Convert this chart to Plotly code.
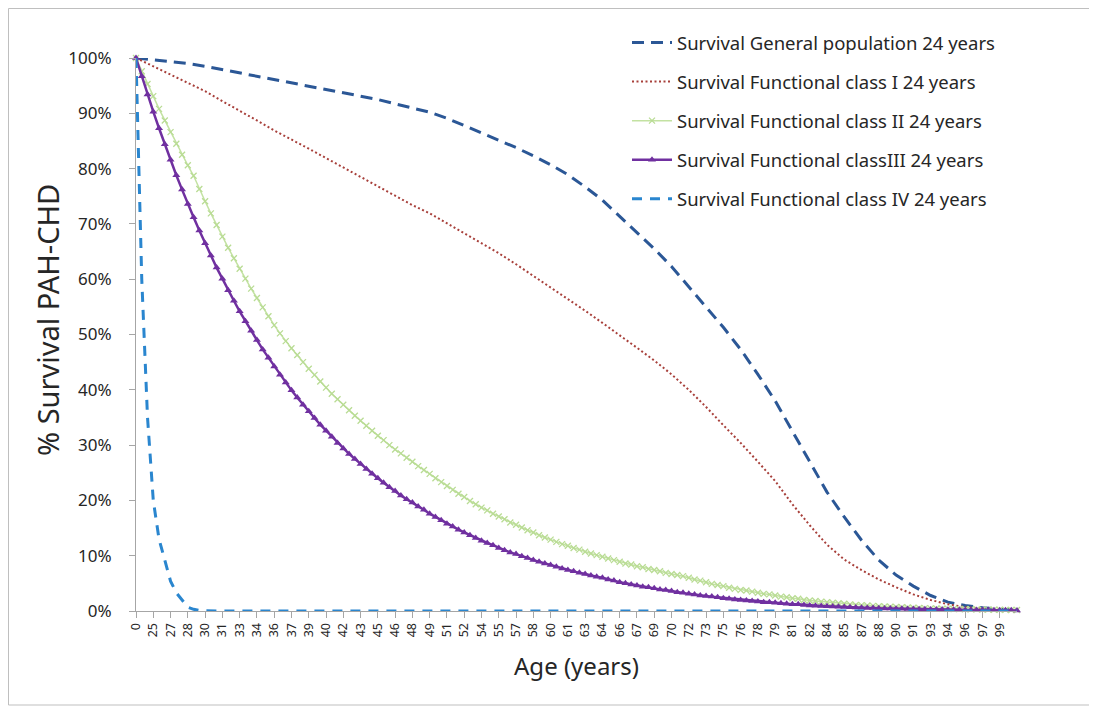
import plotly.graph_objects as go

# ---------------- data ----------------
# category axis: "0" then ages 24 .. 100 in half-year steps
ages = [0,
        24, 24.5, 25, 25.5, 26, 26.5, 27, 27.5, 28, 28.5, 29, 29.5, 30, 30.5, 31, 31.5, 32, 32.5, 33, 33.5,
        34, 34.5, 35, 35.5, 36, 36.5, 37, 37.5, 38, 38.5, 39, 39.5, 40, 40.5, 41, 41.5, 42, 42.5, 43, 43.5,
        44, 44.5, 45, 45.5, 46, 46.5, 47, 47.5, 48, 48.5, 49, 49.5, 50, 50.5, 51, 51.5, 52, 52.5, 53, 53.5,
        54, 54.5, 55, 55.5, 56, 56.5, 57, 57.5, 58, 58.5, 59, 59.5, 60, 60.5, 61, 61.5, 62, 62.5, 63, 63.5,
        64, 64.5, 65, 65.5, 66, 66.5, 67, 67.5, 68, 68.5, 69, 69.5, 70, 70.5, 71, 71.5, 72, 72.5, 73, 73.5,
        74, 74.5, 75, 75.5, 76, 76.5, 77, 77.5, 78, 78.5, 79, 79.5, 80, 80.5, 81, 81.5, 82, 82.5, 83, 83.5,
        84, 84.5, 85, 85.5, 86, 86.5, 87, 87.5, 88, 88.5, 89, 89.5, 90, 90.5, 91, 91.5, 92, 92.5, 93, 93.5,
        94, 94.5, 95, 95.5, 96, 96.5, 97, 97.5, 98, 98.5, 99, 99.5, 100]

tick_labels = ["0", "25", "27", "28", "30", "31", "33", "34", "36", "37", "39", "40", "42", "43", "45",
               "46", "48", "49", "51", "52", "54", "55", "57", "58", "60", "61", "63", "64", "66", "67",
               "69", "70", "72", "73", "75", "76", "78", "79", "81", "82", "84", "85", "87", "88", "90",
               "91", "93", "94", "96", "97", "99"]

# series sampled every third category (0, 25, 26.5, ... 100)
general_population = [100, 99.7, 99.4, 99.0, 98.5, 97.9, 97.3, 96.7, 96.1, 95.6, 95.0, 94.4, 93.8,
                      93.2, 92.5, 91.7, 91.0, 90.2, 89.1, 87.8, 86.5, 85.1, 83.8, 82.3, 80.7, 78.9,
                      76.7, 74.3, 71.4, 68.5, 65.5, 62.3, 58.7, 55.1, 51.3, 47.3, 42.8, 38.0, 32.5,
                      26.8, 21.5, 17.0, 12.8, 9.2, 6.5, 4.5, 2.8, 1.6, 1.0, 0.6, 0.3, 0.2]

class_I = [100, 98.5, 97.0, 95.5, 94.0, 92.2, 90.5, 88.7, 86.9, 85.3, 83.6, 81.9, 80.2,
           78.5, 76.8, 75.1, 73.4, 71.9, 70.1, 68.3, 66.5, 64.7, 62.7, 60.6, 58.6, 56.5,
           54.3, 52.1, 49.9, 47.6, 45.3, 42.8, 40.0, 36.9, 33.6, 30.4, 27.0, 23.5, 19.3,
           15.5, 12.0, 9.3, 7.4, 5.7, 4.3, 3.0, 2.0, 1.2, 0.7, 0.4, 0.2, 0.1]

# series at every category
class_II = [100, 97.6, 95.3, 93.1, 90.8, 88.7, 86.6, 84.5, 82.5, 80.6,
            78.7, 76.3, 74.1, 71.9, 69.8, 67.7, 65.7, 63.8, 61.9, 60.1,
            58.3, 56.6, 54.9, 53.3, 51.7, 50.2, 48.8, 47.5, 46.3, 45.0,
            43.8, 42.7, 41.5, 40.4, 39.3, 38.3, 37.3, 36.3, 35.3, 34.4,
            33.5, 32.6, 31.7, 30.9, 30.0, 29.2, 28.5, 27.7, 27.0, 26.2,
            25.5, 24.8, 24.0, 23.3, 22.6, 21.9, 21.2, 20.6, 19.9, 19.3,
            18.7, 18.2, 17.6, 17.1, 16.6, 16.0, 15.6, 15.1, 14.6, 14.2,
            13.7, 13.3, 12.9, 12.5, 12.1, 11.8, 11.4, 11.1, 10.7, 10.4,
            10.1, 9.8, 9.5, 9.2, 8.9, 8.6, 8.4, 8.1, 7.9, 7.6,
            7.4, 7.2, 6.9, 6.7, 6.5, 6.3, 6.0, 5.7, 5.5, 5.2,
            4.9, 4.7, 4.5, 4.2, 4.0, 3.8, 3.7, 3.5, 3.3, 3.1,
            3.0, 2.8, 2.6, 2.5, 2.3, 2.2, 2.0, 1.9, 1.8, 1.7,
            1.6, 1.5, 1.4, 1.3, 1.2, 1.1, 1.06, 0.99, 0.93, 0.87,
            0.81, 0.76, 0.71, 0.67, 0.63, 0.59, 0.55, 0.52, 0.48, 0.45,
            0.42, 0.40, 0.37, 0.35, 0.33, 0.31, 0.29, 0.27, 0.25, 0.24,
            0.22, 0.21, 0.19, 0.18]

class_III = [100, 96.7, 93.4, 90.3, 87.3, 84.4, 81.6, 78.8, 76.2, 73.6,
             71.2, 68.8, 66.5, 64.3, 62.1, 60.1, 58.0, 56.1, 54.2, 52.4,
             50.7, 49.0, 47.3, 45.8, 44.2, 42.7, 41.3, 39.9, 38.6, 37.3,
             36.1, 34.9, 33.7, 32.6, 31.5, 30.4, 29.4, 28.4, 27.5, 26.6,
             25.7, 24.8, 24.0, 23.2, 22.4, 21.7, 20.9, 20.2, 19.6, 18.9,
             18.3, 17.6, 17.0, 16.4, 15.8, 15.3, 14.7, 14.2, 13.7, 13.2,
             12.7, 12.3, 11.9, 11.4, 11.0, 10.6, 10.3, 9.9, 9.6, 9.2,
             8.9, 8.6, 8.3, 8.0, 7.7, 7.4, 7.2, 6.9, 6.7, 6.4,
             6.2, 6.0, 5.7, 5.5, 5.2, 5.0, 4.8, 4.6, 4.4, 4.3,
             4.1, 3.9, 3.8, 3.6, 3.4, 3.3, 3.1, 3.0, 2.8, 2.7,
             2.6, 2.5, 2.3, 2.2, 2.1, 2.0, 1.9, 1.8, 1.7, 1.6,
             1.6, 1.5, 1.4, 1.3, 1.2, 1.2, 1.1, 1.0, 0.96, 0.91,
             0.85, 0.80, 0.76, 0.71, 0.67, 0.63, 0.59, 0.56, 0.53, 0.50,
             0.47, 0.44, 0.41, 0.39, 0.37, 0.35, 0.33, 0.31, 0.29, 0.27,
             0.26, 0.24, 0.23, 0.21, 0.20, 0.19, 0.18, 0.17, 0.16, 0.15,
             0.14, 0.13, 0.12, 0.11]

class_IV = [100, 60, 35, 20, 13, 9, 5.4, 3.3, 1.9, 0.7,
            0.3, 0.1, 0.05, 0, 0, 0, 0, 0, 0, 0,
            0, 0, 0, 0, 0, 0, 0, 0, 0, 0,
            0, 0, 0, 0, 0, 0, 0, 0, 0, 0,
            0, 0, 0, 0, 0, 0, 0, 0, 0, 0,
            0, 0, 0, 0, 0, 0, 0, 0, 0, 0,
            0, 0, 0, 0, 0, 0, 0, 0, 0, 0,
            0, 0, 0, 0, 0, 0, 0, 0, 0, 0,
            0, 0, 0, 0, 0, 0, 0, 0, 0, 0,
            0, 0, 0, 0, 0, 0, 0, 0, 0, 0,
            0, 0, 0, 0, 0, 0, 0, 0, 0, 0,
            0, 0, 0, 0, 0, 0, 0, 0, 0, 0,
            0, 0, 0, 0, 0, 0, 0, 0, 0, 0,
            0, 0, 0, 0, 0, 0, 0, 0, 0, 0,
            0, 0, 0, 0, 0, 0, 0, 0, 0, 0,
            0, 0, 0, 0]

series_names = ["Survival General population 24 years",
                "Survival Functional class I 24 years",
                "Survival Functional class II 24 years",
                "Survival Functional classIII 24 years",
                "Survival Functional class IV 24 years"]

y_title = "% Survival PAH-CHD"
x_title = "Age (years)"

# ---------------- figure ----------------
cats = [f"{a:g}" for a in ages]
cats_coarse = cats[::3]
tick_cats = cats[0:151:3]

FONT = "Noto Sans"
TXT = "#262626"
AX = "#A6A6A6"

fig = go.Figure()
fig.add_trace(go.Scatter(x=cats_coarse, y=general_population, mode="lines", name=series_names[0],
                         line=dict(color="#2B5796", width=3, dash="12px,7px"), legendgroup="a"))
fig.add_trace(go.Scatter(x=cats_coarse, y=class_I, mode="lines", name=series_names[1],
                         line=dict(color="#A8403B", width=2, dash="2px,2.5px"), legendgroup="b"))
fig.add_trace(go.Scatter(x=cats, y=class_II, mode="lines+markers", name=series_names[2],
                         line=dict(color="#C3E2A2", width=1.5),
                         marker=dict(symbol="x-thin", size=6, line=dict(color="#B9DC94", width=1.3)),
                         cliponaxis=False, legendgroup="c"))
fig.add_trace(go.Scatter(x=cats, y=class_III, mode="lines+markers", name=series_names[3],
                         line=dict(color="#7030A0", width=2.5),
                         marker=dict(symbol="triangle-up", size=7, color="#7030A0"),
                         cliponaxis=False, legendgroup="d"))
fig.add_trace(go.Scatter(x=cats, y=class_IV, mode="lines", name=series_names[4],
                         line=dict(color="#2A86CF", width=3, dash="10px,8px"), legendgroup="e"))

# the page places the figure 8 px in from the top-left corner
L, R, T, B = 128, 80, 50, 102
W, H = 1089, 705
pw, ph = W - L - R, H - T - B

fig.update_layout(
    width=W, height=H,
    margin=dict(l=L, r=R, t=T, b=B),
    paper_bgcolor="white", plot_bgcolor="white",
    font=dict(family=FONT, color=TXT, size=15),
    showlegend=True,
    legend=dict(x=(619 - L) / pw, y=1 + (T - 16) / ph, xanchor="left", yanchor="top",
                font=dict(size=18.5, family=FONT, color=TXT), bgcolor="rgba(0,0,0,0)",
                traceorder="grouped", tracegroupgap=12, itemwidth=40),
    xaxis=dict(type="category", categoryorder="array", categoryarray=cats,
               range=[0, len(cats) - 1], tickmode="array", tickvals=tick_cats, ticktext=tick_labels,
               tickangle=-90, tickfont=dict(size=12.5, family=FONT, color=TXT),
               ticks="outside", ticklen=6, tickcolor=AX, showline=True, linecolor=AX, linewidth=1,
               showgrid=False, zeroline=False,
               title=dict(text=x_title, font=dict(size=24, family=FONT, color=TXT), standoff=21)),
    yaxis=dict(range=[0, 100], dtick=10, ticksuffix="%", tickfont=dict(size=17, family=FONT, color=TXT),
               ticks="outside", ticklen=6, tickcolor=AX, showline=True, linecolor=AX, linewidth=1,
               showgrid=False, zeroline=False, ticklabelstandoff=14),
    annotations=[dict(text=y_title, textangle=-90, xref="paper", yref="paper",
                      x=(39 - L) / pw, y=(H - B - 312) / ph, xanchor="center", yanchor="middle",
                      showarrow=False, font=dict(size=29, family=FONT, color=TXT))],
    shapes=[dict(type="rect", xref="paper", yref="paper",
                 x0=(0.5 - L) / pw, x1=(1084 - L) / pw, y0=(H - B - 697) / ph, y1=(H - B - 0.5) / ph,
                 line=dict(color="#BFBFBF", width=1), fillcolor="rgba(0,0,0,0)", layer="below")],
)

fig.write_html("out.html")
